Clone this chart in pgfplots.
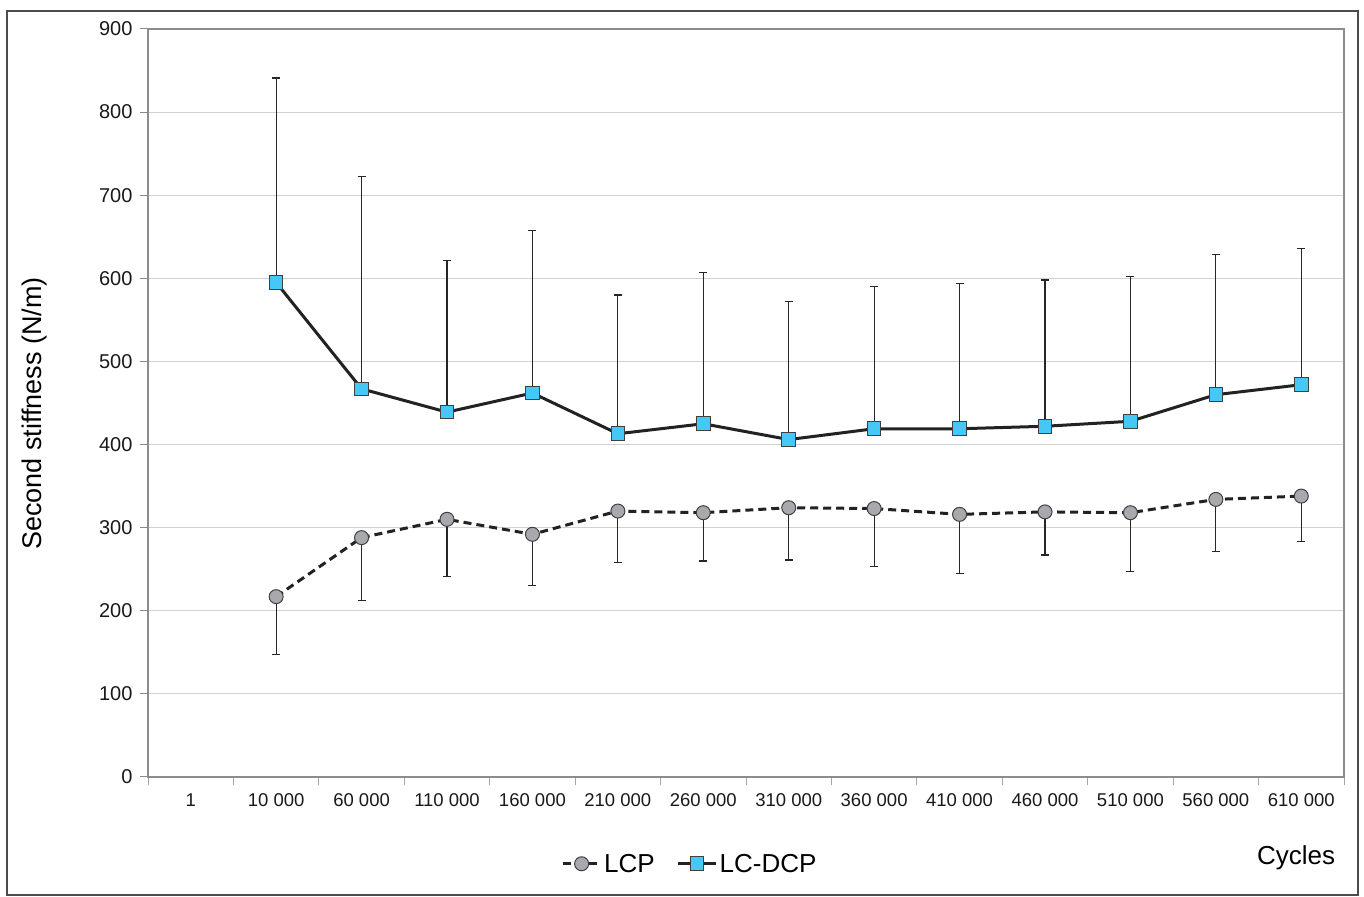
\documentclass[border=0pt]{standalone}
\usepackage{pgfplots}
\pgfplotsset{compat=1.18}
\usepackage{pgfplotstable}
\usepackage{fontspec}
\setmainfont{Liberation Sans}
\definecolor{cyanm}{HTML}{45C8F5}
\definecolor{grayc}{HTML}{A8A9AD}
\definecolor{linec}{HTML}{222222}

\pgfplotstableread{
x y e
1 217 70
2 288 76
3 310 69
4 292 62
5 320 62
6 318 58
7 324 63
8 323 70
9 316 71
10 319 52
11 318 71
12 334 63
13 338 55
}\lcp

\pgfplotstableread{
x y e
1 595 246
2 467 256
3 439 182
4 462 196
5 413 167
6 425 182
7 406 166
8 419 171
9 419 175
10 422 176
11 428 174
12 460 169
13 472 164
}\lcdcp

\begin{document}
\begin{tikzpicture}[x=1pt,y=1pt]
\path (0,0) rectangle (1364,896);
\draw[black!70, line width=2pt] (7,1) rectangle (1358,885);
\begin{axis}[
  at={(148pt,119pt)}, anchor=south west,
  scale only axis, width=1196pt, height=748pt,
  xmin=-0.5, xmax=13.5, ymin=0, ymax=900,
  ytick={0,100,...,900},
  xtick={0,...,13},
  xticklabels={1,10 000,60 000,110 000,160 000,210 000,260 000,310 000,360 000,410 000,460 000,510 000,560 000,610 000},
  minor xtick={-0.5,0.5,...,13.5},
  major x tick style={draw=none},
  minor x tick style={black!35, line width=1pt},
  major y tick style={black!45, line width=1pt},
  tick align=outside,
  tick pos=left,
  major tick length=8pt,
  minor tick length=8pt,
  axis line style={black!45, line width=1.3pt},
  ymajorgrids,
  grid style={black!18, line width=1pt},
  /pgf/number format/assume math mode=true,
  yticklabel style={font=\fontsize{20}{22}\selectfont, black!90, xshift=-4pt},
  xticklabel style={font=\fontsize{18.5}{21}\selectfont, black!90, yshift=-5pt},
  ylabel={Second stiffness (N/m)},
  ylabel style={font=\fontsize{27}{31}\selectfont, at={(axis description cs:-0.0953,0.486)}, anchor=center},
  legend style={at={(axis description cs:0.453,-0.116)}, anchor=center, draw=none, fill=none,
    font=\fontsize{26}{30}\selectfont, legend columns=2,
    /tikz/every even column/.append style={column sep=20pt}},
  legend image code/.code={\draw[mark repeat=2,mark phase=2] plot coordinates {(0pt,0pt) (19pt,0pt) (38pt,0pt)};},
]
\addplot[linec, line width=3pt, dash pattern=on 8pt off 5pt,
  mark=*, mark size=7pt, mark options={solid, fill=grayc, draw=black!75, line width=1pt},
  error bars/.cd, y dir=minus, y explicit,
  error bar style={solid, black!85, line width=1.2pt},
  error mark options={rotate=90, solid, black!85, line width=1.2pt, mark size=4pt}]
  table[x=x, y=y, y error=e] {\lcp};
\addlegendentry{LCP}
\addplot[linec, line width=3pt,
  mark=square*, mark size=6.8pt, mark options={solid, fill=cyanm, draw=black!75, line width=1pt},
  error bars/.cd, y dir=plus, y explicit,
  error bar style={solid, black!85, line width=1.2pt},
  error mark options={rotate=90, solid, black!85, line width=1.2pt, mark size=4pt}]
  table[x=x, y=y, y error=e] {\lcdcp};
\addlegendentry{LC-DCP}
\end{axis}
\node[font=\fontsize{26}{30}\selectfont, anchor=center] at (1296,38) {Cycles};
\end{tikzpicture}
\end{document}
